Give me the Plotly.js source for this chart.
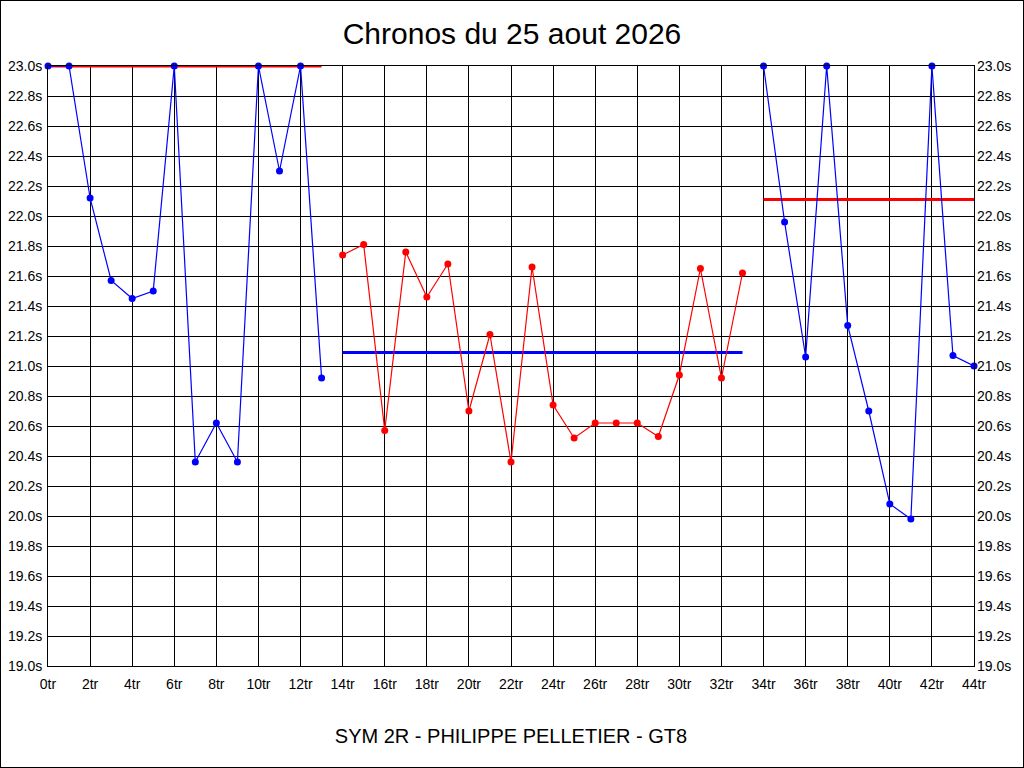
<!DOCTYPE html>
<html>
<head>
<meta charset="utf-8">
<script src="https://cdn.plot.ly/plotly-3.0.1.min.js"></script>
<style>
  body { margin: 0; background: #fff; }
  #chronos { width: 1024px; height: 768px; }
  #frame { position: absolute; left: 0; top: 0; width: 1022px; height: 766px;
           border: 1px solid #000; pointer-events: none; }
</style>
</head>
<body>
<div id="chronos"></div>
<div id="frame"></div>
<script>
/* tours 0-13, 14-33, 34-44 */
var toursA = [0, 1, 2, 3, 4, 5, 6, 7, 8, 9, 10, 11, 12, 13];
var chronosA = [23.0, 23.0, 22.12, 21.57, 21.45, 21.50, 23.0, 20.36, 20.62, 20.36, 23.0, 22.30, 23.0, 20.92];

var toursB = [14, 15, 16, 17, 18, 19, 20, 21, 22, 23, 24, 25, 26, 27, 28, 29, 30, 31, 32, 33];
var chronosB = [21.74, 21.81, 20.57, 21.76, 21.46, 21.68, 20.70, 21.21, 20.36, 21.66,
                20.74, 20.52, 20.62, 20.62, 20.62, 20.53, 20.94, 21.65, 20.92, 21.62];

var toursC = [34, 35, 36, 37, 38, 39, 40, 41, 42, 43, 44];
var chronosC = [23.0, 21.96, 21.06, 23.0, 21.27, 20.70, 20.08, 19.98, 23.0, 21.07, 21.00];

/* moyennes par relais */
var moyenneA = 23.0;
var moyenneB = 21.09;
var moyenneC = 22.11;

var blue = 'rgb(0, 0, 255)';
var red = 'rgb(255, 0, 0)';

function serie(x, y, color, axis) {
  return {
    x: x, y: y, yaxis: axis || 'y',
    type: 'scatter', mode: 'lines+markers',
    line: {color: color, width: 1.2},
    marker: {color: color, size: 7},
    cliponaxis: false
  };
}
function moyenne(x, level, color, axis) {
  return {
    x: [x[0], x[x.length - 1]], y: [level, level], yaxis: axis || 'y',
    type: 'scatter', mode: 'lines',
    line: {color: color, width: 3},
    cliponaxis: false
  };
}

var data = [
  moyenne(toursA, moyenneA, red),
  serie(toursA, chronosA, blue),
  moyenne(toursB, moyenneB, blue),
  serie(toursB, chronosB, red),
  moyenne(toursC, moyenneC, red, 'y2'),
  serie(toursC, chronosC, blue, 'y2')
];

var axisFont = {family: '"Liberation Sans", Arial, sans-serif', size: 14, color: '#000'};

var layout = {
  width: 1024, height: 768,
  showlegend: false,
  paper_bgcolor: '#fff', plot_bgcolor: '#fff',
  margin: {l: 48, r: 50, t: 66, b: 102},
  font: axisFont,
  title: {
    text: 'Chronos du 25 aout 2026',
    font: {family: '"Liberation Sans", Arial, sans-serif', size: 30, color: '#000'},
    x: 0.5, xanchor: 'center', y: 1 - 33 / 768, yanchor: 'middle'
  },
  xaxis: {
    range: [0, 44], dtick: 2, tick0: 0, ticksuffix: 'tr',
    showgrid: true, gridcolor: '#000', gridwidth: 1,
    showline: true, linecolor: '#000', linewidth: 1, mirror: true,
    zeroline: false, ticks: '', tickfont: axisFont, ticklabelstandoff: 5,
    title: {
      text: 'SYM 2R - PHILIPPE PELLETIER - GT8',
      font: {family: '"Liberation Sans", Arial, sans-serif', size: 20, color: '#000'},
      standoff: 38
    }
  },
  yaxis: {
    range: [19, 23], dtick: 0.2, tick0: 19, tickformat: '.1f', ticksuffix: 's',
    showgrid: true, gridcolor: '#000', gridwidth: 1,
    showline: true, linecolor: '#000', linewidth: 1, mirror: true,
    zeroline: false, ticks: '', tickfont: axisFont, ticklabelstandoff: 2
  },
  yaxis2: {
    overlaying: 'y', side: 'right', matches: 'y',
    range: [19, 23], dtick: 0.2, tick0: 19, tickformat: '.1f', ticksuffix: 's',
    showgrid: false, zeroline: false, ticks: '', tickfont: axisFont, ticklabelstandoff: 2
  }
};

Plotly.newPlot('chronos', data, layout, {staticPlot: true});
</script>
</body>
</html>
